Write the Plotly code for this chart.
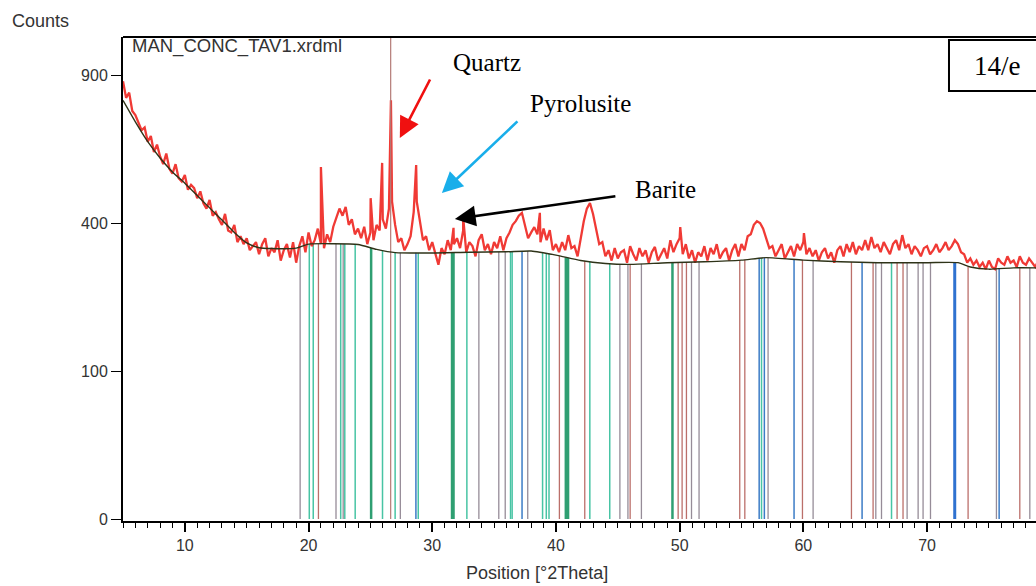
import numpy as np
import plotly.graph_objects as go

# ---------------- data ----------------
scan_start = 5.0
scan_step = 0.25
counts = [
    875, 810, 830, 760, 745, 720, 690, 700, 650, 670, 615, 640, 600, 575, 610, 560, 545, 575, 530, 520,
    540, 495, 510, 500, 470, 490, 455, 440, 465, 420, 430, 410, 395, 425, 380, 375, 395, 350, 365, 345,
    360, 330, 340, 350, 320, 345, 360, 315, 335, 325, 355, 305, 330, 345, 312, 350, 300, 340, 365, 325,
    375, 340, 355, 385, 345, 335, 370, 350, 390, 415, 440, 420, 445, 395, 410, 370, 385, 360, 390, 345,
    375, 355, 395, 380, 410, 385, 440, 460, 395, 350, 360, 330, 345, 365, 430, 460, 405, 355, 365, 330,
    350, 320, 295, 335, 320, 355, 330, 345, 360, 335, 380, 325, 350, 340, 315, 355, 370, 330, 345, 320,
    350, 335, 365, 330, 360, 375, 395, 405, 420, 428, 395, 360, 375, 389, 370, 350, 385, 355, 381, 330,
    345, 325, 350, 330, 368, 335, 340, 315, 360, 405, 440, 456, 425, 385, 345, 350, 315, 330, 305, 335,
    310, 325, 330, 300, 340, 320, 305, 335, 315, 330, 300, 325, 338, 305, 320, 335, 310, 355, 325, 345,
    360, 320, 345, 310, 330, 300, 325, 315, 340, 305, 335, 320, 345, 310, 325, 335, 305, 330, 345, 315,
    345, 330, 365, 370, 395, 405, 400, 385, 360, 335, 340, 315, 330, 345, 310, 325, 340, 315, 345, 330,
    350, 320, 335, 315, 330, 305, 325, 335, 310, 325, 300, 330, 340, 315, 345, 325, 350, 320, 340, 330,
    355, 330, 363, 335, 345, 325, 350, 335, 320, 345, 355, 330, 368, 335, 345, 320, 340, 330, 315, 335,
    340, 320, 330, 345, 325, 335, 350, 330, 340, 355, 345, 325, 320, 300, 310, 295, 305, 290, 300, 285,
    305, 290, 285, 310, 300, 295, 315, 300, 305, 290, 315, 300, 295, 310, 300, 290, 305,
]
# sharp reflections between scan points
peak_pos = [21.0, 25.02, 25.95, 26.66, 28.7, 31.72, 32.5, 38.7, 50.05, 60.05, 65.5, 68.0]
peak_counts = [566, 470, 579, 801, 572, 387, 416, 428, 389, 373, 363, 368]

bg_pos = [5, 6, 7, 8, 9, 10, 11, 12, 13, 14, 15, 16, 17, 19, 20, 22, 24, 25.5, 27, 30,
          33, 36, 38, 40, 42, 44, 46, 49, 52, 55, 57, 60, 63, 66, 70, 72.5, 73.5, 75, 77, 79]
bg_counts = [800, 720, 650, 595, 550, 515, 478, 442, 408, 375, 348, 336, 334, 335, 345, 346,
             344, 332, 324, 323, 325, 326, 328, 318, 305, 298, 296, 300, 302, 306, 312, 306,
             302, 300, 300, 300, 290, 285, 288, 288]

gray_sticks = [19.32, 22.22, 22.8, 27.42, 33.77, 35.38, 35.9, 37.72, 45.17, 45.82, 46.91,
               50.96, 51.57, 57.15, 60.79, 65.86, 66.32, 68.39, 69.28, 69.68, 70.28, 75.61, 78.31]
teal_sticks = [20.06, 20.38, 22.6, 22.93, 23.77, 25.98, 27.0, 28.87, 32.8, 36.33, 36.46,
               38.92, 39.22, 39.44, 42.74, 44.35, 56.62, 67.13]
brown_sticks = [20.8, 40.28, 42.33, 46.0, 49.88, 50.2, 50.55, 54.86, 55.27, 59.93, 63.89,
                65.64, 67.58, 68.06, 73.32, 77.5]
blue_sticks = [28.68, 37.26, 56.43, 56.85, 59.25, 64.75, 75.83]
blue_thick_sticks = [72.24]
green_sticks = [25.06, 31.6, 31.72, 40.8, 40.98, 49.42]
quartz_main = [26.64]
quartz_main_counts = [1200]

y_ticks = [0, 100, 400, 900]

# ---------------- build ----------------
scan_pos = [scan_start + scan_step * i for i in range(len(counts))]
all_pos = np.array(scan_pos + peak_pos)
all_cnt = np.array(counts + peak_counts, dtype=float)
order = np.argsort(all_pos, kind="stable")
all_pos, all_cnt = all_pos[order], all_cnt[order]

fig = go.Figure()


def stick_trace(pos, color, width, tops=None):
    xs, ys = [], []
    for i, p in enumerate(pos):
        top = tops[i] if tops is not None else float(np.interp(p, bg_pos, bg_counts))
        xs += [p, p, None]
        ys += [0, np.sqrt(top), None]
    return go.Scatter(x=xs, y=ys, mode="lines", line=dict(color=color, width=width),
                      hoverinfo="skip", showlegend=False)


fig.add_trace(stick_trace(gray_sticks, "#968c98", 1.3))
fig.add_trace(stick_trace(teal_sticks, "#48c4a4", 1.5))
fig.add_trace(stick_trace(brown_sticks, "#bb6f6a", 1.3))
fig.add_trace(stick_trace(blue_sticks, "#3c7cc6", 1.5))
fig.add_trace(stick_trace(blue_thick_sticks, "#2f72d0", 3))
fig.add_trace(stick_trace(green_sticks, "#2f9f72", 2.5))

fig.add_trace(go.Scatter(x=all_pos, y=np.sqrt(all_cnt), mode="lines",
                         line=dict(color="#f03a35", width=2.3), showlegend=False))
fig.add_trace(stick_trace(quartz_main, "#b47a76", 1.2, quartz_main_counts))
fig.add_trace(go.Scatter(x=bg_pos, y=np.sqrt(bg_counts), mode="lines",
                         line=dict(color="#2e3318", width=1.4, shape="spline", smoothing=0.6),
                         showlegend=False))

sans = "Liberation Sans, Arial, sans-serif"
serif = "Liberation Serif, Times New Roman, serif"

fig.update_layout(
    width=1036, height=586,
    margin=dict(l=123, r=0, t=37, b=65),
    paper_bgcolor="white", plot_bgcolor="white",
    showlegend=False,
    xaxis=dict(range=[5, 78.81], tick0=0, dtick=10, ticks="outside", ticklen=9,
               tickwidth=1.5, tickcolor="black", showline=True, linewidth=2,
               linecolor="black", showgrid=False, zeroline=False,
               tickfont=dict(family=sans, size=16, color="#333"),
               minor=dict(dtick=1, ticks="outside", ticklen=5, tickcolor="black", tickwidth=1)),
    yaxis=dict(range=[-0.135, 32.57], tickvals=[np.sqrt(v) for v in y_ticks],
               ticktext=[str(v) for v in y_ticks], ticks="outside", ticklen=10,
               tickwidth=1.2, tickcolor="black", showline=True, linewidth=2,
               linecolor="black", showgrid=False, zeroline=False,
               tickfont=dict(family=sans, size=16, color="#333")),
)

fig.add_shape(type="line", xref="paper", yref="paper", x0=0, x1=1, y0=1, y1=1,
              line=dict(color="black", width=2))
fig.add_shape(type="rect", xref="paper", yref="paper", x0=0.9047, x1=1.02,
              y0=0.8884, y1=0.9938, line=dict(color="black", width=2))

anns = [
    dict(text="Counts", x=-0.124, y=1.033, xanchor="left", font=dict(family=sans, size=18, color="#333")),
    dict(text="MAN_CONC_TAV1.xrdml", x=0.0074, y=0.981, xanchor="left",
         font=dict(family=sans, size=18.5, color="#333")),
    dict(text="Position [°2Theta]", x=0.4533, y=-0.107, xanchor="center",
         font=dict(family=sans, size=18, color="#333")),
    dict(text="Quartz", x=0.3986, y=0.9483, xanchor="center", font=dict(family=serif, size=25, color="black")),
    dict(text="Pyrolusite", x=0.5015, y=0.8616, xanchor="center", font=dict(family=serif, size=25, color="black")),
    dict(text="Barite", x=0.5947, y=0.6839, xanchor="center", font=dict(family=serif, size=25, color="black")),
    dict(text="14/e", x=0.9575, y=0.940, xanchor="center", font=dict(family=serif, size=27, color="black")),
]
for a in anns:
    fig.add_annotation(xref="paper", yref="paper", yanchor="middle", showarrow=False, **a)

arrows = [
    (0.3032, 0.7913, 31, -60, "#f01010"),
    (0.3493, 0.6777, 77, -73, "#19aeea"),
    (0.3635, 0.6240, 162, -23, "#000000"),
]
for x, y, ax, ay, c in arrows:
    fig.add_annotation(xref="paper", yref="paper", x=x, y=y, ax=ax, ay=ay, text="",
                       showarrow=True, arrowhead=2, arrowsize=1.6, arrowwidth=2.6,
                       arrowcolor=c, standoff=0)

fig.write_html("out.html", config={"displayModeBar": False})

# remove the browser's default page margin so the figure sits at the window origin
with open("out.html", "r", encoding="utf-8") as f:
    html = f.read()
html = html.replace("<body>", '<body style="margin:0;padding:0;overflow:hidden">', 1)
with open("out.html", "w", encoding="utf-8") as f:
    f.write(html)
